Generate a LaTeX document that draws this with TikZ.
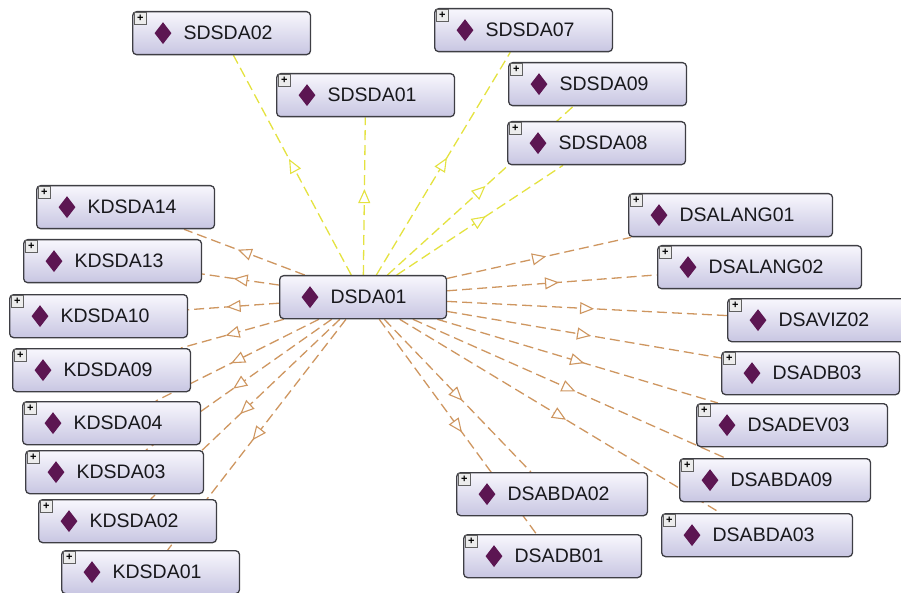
\documentclass[tikz,border=0pt]{standalone}
\usepackage{fontspec}
\setmainfont{Liberation Sans}
\usetikzlibrary{shapes.geometric,arrows.meta,decorations.markings,backgrounds}
\definecolor{oc}{RGB}{206,150,96}
\definecolor{yc}{RGB}{228,226,64}
\definecolor{plum}{RGB}{92,22,82}
\definecolor{boxtop}{RGB}{248,247,253}
\definecolor{boxbot}{RGB}{200,198,226}
\definecolor{boxline}{RGB}{62,62,68}
\definecolor{txt}{RGB}{24,24,28}
\tikzset{
  ontobox/.style={rectangle, rounded corners=4pt, draw=boxline, line width=1.3pt,
    top color=boxtop, bottom color=boxbot, anchor=north west, inner xsep=0pt,
    inner ysep=0pt, minimum height=43pt, text=txt,
    font=\fontsize{19.5}{20}\selectfont},
  diam/.style={diamond, fill=plum, draw=none, inner sep=0pt, minimum width=17pt, minimum height=22pt},
  plusbox/.style={rectangle, anchor=north west, draw=gray!75!black, fill=gray!15, line width=0.6pt,
    minimum width=12pt, minimum height=12pt, inner sep=0pt, font=\bfseries\fontsize{11}{11}\selectfont},
  edgebase/.style={line width=1.3pt, dash pattern=on 10pt off 5pt, postaction={decorate},
    decoration={markings, mark=at position 0.5 with {\arrow[xshift=7pt, line width=1.1pt]{Triangle[length=14pt,width=12pt,fill=white]}}}},
  oedge/.style={edgebase, draw=oc},
  yedge/.style={edgebase, draw=yc}
}
\newcommand\onto[4]{%
  \node[ontobox] (#1) at (#2,#3) {\hspace*{51pt}#4\hspace*{38pt}};
  \node[diam] (#1-d) at ([xshift=31pt]#1.west) {};
  \node[plusbox] (#1-p) at ([xshift=2pt,yshift=-1pt]#1.north west) {+};
}
\begin{document}
\begin{tikzpicture}[x=1pt,y=-1pt]
\useasboundingbox (0,0) rectangle (901,593);
% centre
\node[ontobox] (DSDA01) at (279,275) {\hspace*{51pt}DSDA01\hspace*{40pt}};
\node[diam] (DSDA01-d) at ([xshift=31pt]DSDA01.west) {};
% top
\onto{SDSDA02}{132}{11}{SDSDA02}
\onto{SDSDA01}{276}{73}{SDSDA01}
\onto{SDSDA07}{434}{8}{SDSDA07}
\onto{SDSDA09}{508}{62}{SDSDA09}
\onto{SDSDA08}{507}{121}{SDSDA08}
% left
\onto{KDSDA14}{36}{185}{KDSDA14}
\onto{KDSDA13}{23}{239}{KDSDA13}
\onto{KDSDA10}{9}{294}{KDSDA10}
\onto{KDSDA09}{12}{348}{KDSDA09}
\onto{KDSDA04}{22}{401}{KDSDA04}
\onto{KDSDA03}{25}{450}{KDSDA03}
\onto{KDSDA02}{38}{499}{KDSDA02}
\onto{KDSDA01}{61}{550}{KDSDA01}
% right
\onto{DSALANG01}{628}{193}{DSALANG01}
\onto{DSALANG02}{657}{245}{DSALANG02}
\onto{DSAVIZ02}{727}{298}{DSAVIZ02}
\onto{DSADB03}{721}{351}{DSADB03}
\onto{DSADEV03}{696}{403}{DSADEV03}
\onto{DSABDA09}{679}{458}{DSABDA09}
\onto{DSABDA03}{661}{513}{DSABDA03}
% bottom
\onto{DSABDA02}{456}{472}{DSABDA02}
\onto{DSADB01}{463}{534}{DSADB01}
\begin{scope}[on background layer]
\foreach \n in {SDSDA02,SDSDA01,SDSDA07,SDSDA09,SDSDA08}
  \draw[yedge] (DSDA01) -- (\n);
\foreach \n in {KDSDA14,KDSDA13,KDSDA10,KDSDA09,KDSDA04,KDSDA03,KDSDA02,KDSDA01,
  DSALANG01,DSALANG02,DSAVIZ02,DSADB03,DSADEV03,DSABDA09,DSABDA03,DSABDA02,DSADB01}
  \draw[oedge] (DSDA01) -- (\n);
\end{scope}
\end{tikzpicture}
\end{document}
